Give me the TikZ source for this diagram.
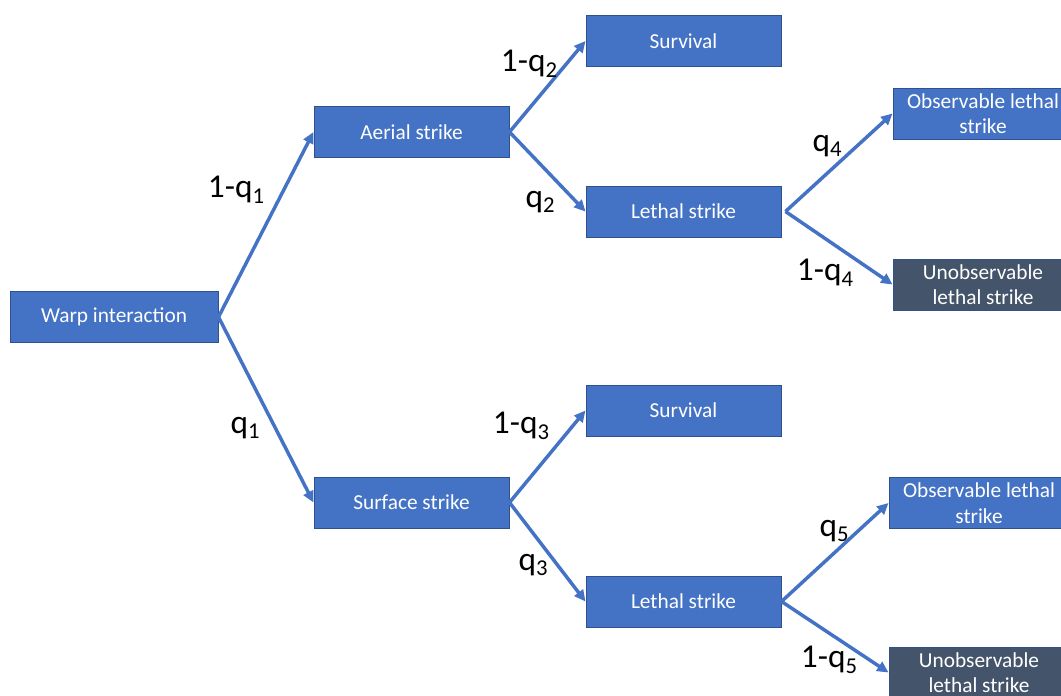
\documentclass[tikz,border=0pt]{standalone}
\usepackage{fontspec}
\setmainfont{Carlito}
\usetikzlibrary{arrows.meta}
\definecolor{boxblue}{RGB}{68,114,196}
\definecolor{boxedge}{RGB}{47,82,143}
\definecolor{boxdark}{RGB}{68,84,106}
\newcommand{\qsub}[1]{\raisebox{-0.35ex}{\fontsize{17}{17}\selectfont #1}}
\begin{document}
\begin{tikzpicture}[x=0.75pt,y=0.75pt,yscale=-1,xscale=1,
  box/.style={draw=boxedge, line width=0.75pt, fill=boxblue, text=white, font=\fontsize{16}{19}\selectfont, minimum width=146.25pt, minimum height=38.25pt, inner sep=0pt, align=center},
  darkbox/.style={box, fill=boxdark},
  endbox/.style={minimum width=135pt},
  branch/.style={draw=boxblue, line width=2.6pt, -{Triangle[length=8.5pt,width=8pt]}},
  prob/.style={font=\fontsize{25}{25}\selectfont, inner sep=0pt}]
\useasboundingbox (0,0) rectangle (1061,696);

%Boxes
\node [box, minimum width=156pt] (warp) at (114,317) {Warp interaction};
\node [box] (aerial) at (411.5,132) {Aerial strike};
\node [box] (surface) at (411.5,502.5) {Surface strike};
\node [box] (survA) at (683.5,41) {Survival};
\node [box] (lethA) at (683.5,211.5) {Lethal strike};
\node [box] (survB) at (683.5,410.5) {Survival};
\node [box] (lethB) at (683.5,601.5) {Lethal strike};
\node [box, endbox] (obsA) at (983,113.5) {Observable lethal\\strike};
\node [darkbox, endbox] (unobsA) at (983,284.5) {Unobservable\\lethal strike};
\node [box, endbox] (obsB) at (979,503) {Observable lethal\\strike};
\node [darkbox, endbox] (unobsB) at (979,672.5) {Unobservable\\lethal strike};

%Branches
\draw [branch] (warp.east) -- (aerial.west);
\draw [branch] (warp.east) -- (surface.west);
\draw [branch] (aerial.east) -- (survA.west);
\draw [branch] (aerial.east) -- (lethA.west);
\draw [branch] (surface.east) -- (survB.west);
\draw [branch] (surface.east) -- (lethB.west);
\draw [branch] ([xshift=3pt]lethA.east) -- (obsA.west);
\draw [branch] ([xshift=3pt]lethA.east) -- (unobsA.west);
\draw [branch] (lethB.east) -- (obsB.west);
\draw [branch] (lethB.east) -- (unobsB.west);

% Text Node
\node [prob] (pA) at (236,190) {1-q\qsub{1}};
\node [prob] (pB) at (245,428) {q\qsub{1}};
\node [prob] (pC) at (529,64) {1-q\qsub{2}};
\node [prob] (pD) at (540,202) {q\qsub{2}};
\node [prob] (pE) at (521,426) {1-q\qsub{3}};
\node [prob] (pF) at (533,565) {q\qsub{3}};
\node [prob] (pG) at (827,146) {q\qsub{4}};
\node [prob] (pH) at (825,273) {1-q\qsub{4}};
\node [prob] (pI) at (834,531) {q\qsub{5}};
\node [prob] (pJ) at (829,660) {1-q\qsub{5}};

\end{tikzpicture}
\end{document}
